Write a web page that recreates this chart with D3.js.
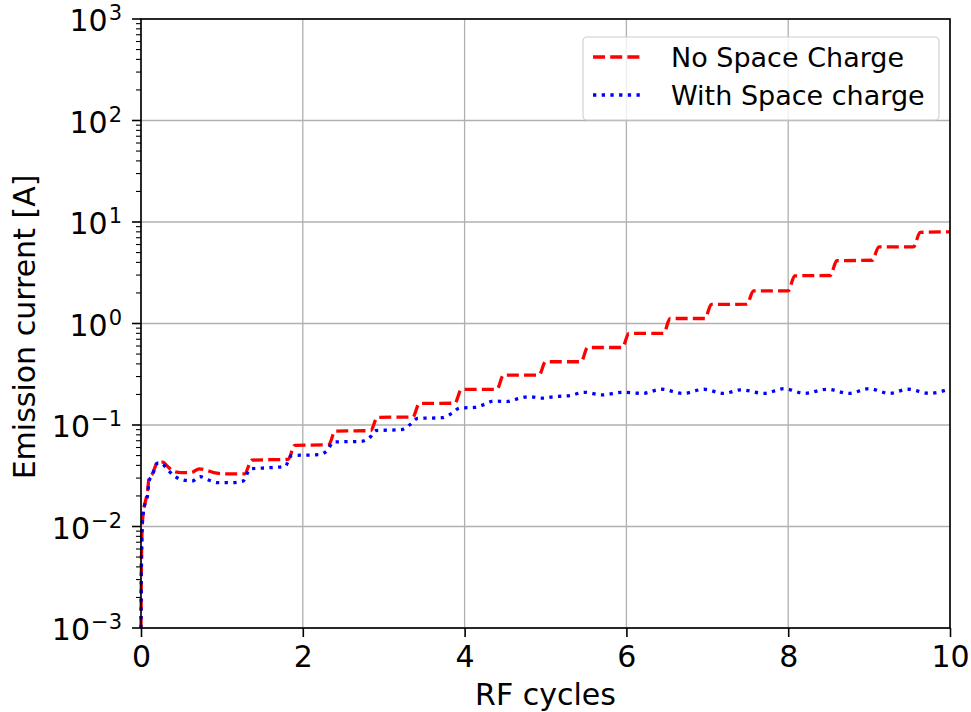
<!DOCTYPE html>
<html>
<head>
<meta charset="utf-8">
<style>
body { margin: 0; background: #fff; }
svg { font-family: "DejaVu Sans", sans-serif; }
.grid line { stroke: #b0b0b0; stroke-width: 1.3px; }
</style>
</head>
<body>
<svg width="971" height="712"></svg>
<script src="https://cdn.jsdelivr.net/npm/d3@7"></script>
<script>
// RF cycles vs emission current
var noScX = [0, 0.005, 0.015, 0.03, 0.05, 0.08, 0.1, 0.14, 0.2, 0.27, 0.33, 0.4, 0.5, 0.62, 0.72, 0.8, 0.9, 1.05, 1.28,
  1.37, 1.82, 1.9, 2.32, 2.4, 2.84, 2.92, 3.36, 3.44, 3.88, 3.96, 4.4, 4.48, 4.92, 5.0, 5.44, 5.52, 5.95, 6.03,
  6.46, 6.54, 6.97, 7.05, 7.49, 7.57, 8.0, 8.08, 8.52, 8.6, 9.04, 9.12, 9.55, 9.63, 10];
var noScY = [0.001, 0.004, 0.010, 0.014, 0.017, 0.022, 0.030, 0.033, 0.042, 0.043, 0.039, 0.035, 0.034, 0.034, 0.037, 0.036, 0.034, 0.033, 0.033,
  0.045, 0.046, 0.063, 0.064, 0.087, 0.088, 0.119, 0.12, 0.163, 0.164, 0.224, 0.225, 0.31, 0.31, 0.42, 0.42, 0.58, 0.58, 0.8,
  0.8, 1.12, 1.12, 1.54, 1.55, 2.1, 2.1, 2.95, 2.97, 4.15, 4.2, 5.7, 5.7, 7.9, 8.0];

var withScX = [0, 0.005, 0.015, 0.03, 0.05, 0.08, 0.1, 0.14, 0.2, 0.25, 0.32, 0.4, 0.5, 0.63, 0.73, 0.82, 0.95, 1.1, 1.26,
  1.35, 1.6, 1.78, 1.86, 2.2, 2.3, 2.38, 2.72, 2.84, 2.9, 3.22, 3.32, 3.42, 3.72, 3.84, 3.94, 4.12, 4.22, 4.36,
  4.52, 4.64, 4.8, 4.96, 5.1, 5.3, 5.48, 5.7, 5.95, 6.2, 6.43, 6.7, 6.96, 7.2, 7.42, 7.7, 7.95, 8.2, 8.48, 8.75,
  9.0, 9.25, 9.48, 9.75, 10];
var withScY = [0.001, 0.004, 0.010, 0.014, 0.017, 0.02, 0.028, 0.032, 0.042, 0.042, 0.037, 0.032, 0.029, 0.028, 0.031, 0.029, 0.027, 0.027, 0.028,
  0.037, 0.038, 0.039, 0.05, 0.051, 0.056, 0.068, 0.069, 0.077, 0.088, 0.09, 0.1, 0.116, 0.118, 0.13, 0.147, 0.149, 0.157, 0.172,
  0.17, 0.18, 0.19, 0.184, 0.19, 0.195, 0.21, 0.198, 0.21, 0.205, 0.225, 0.205, 0.225, 0.205, 0.222, 0.205, 0.228, 0.205, 0.225, 0.205,
  0.228, 0.205, 0.225, 0.205, 0.228];

var xTicks = [0, 2, 4, 6, 8, 10];
var yExps = [-3, -2, -1, 0, 1, 2, 3];
var seriesNames = ["No Space Charge", "With Space charge"];

var svg = d3.select("svg");
var plotL = 141, plotR = 950, plotT = 19, plotB = 628;

var x = d3.scaleLinear().domain([0, 10]).range([plotL, plotR]);
var y = d3.scaleLog().domain([1e-3, 1e3]).range([plotB, plotT]);

// grid
var grid = svg.append("g").attr("class", "grid");
grid.selectAll(".gx").data(xTicks).enter().append("line")
  .attr("x1", function(d) { return x(d); }).attr("x2", function(d) { return x(d); })
  .attr("y1", plotT).attr("y2", plotB);
grid.selectAll(".gy").data(yExps).enter().append("line")
  .attr("x1", plotL).attr("x2", plotR)
  .attr("y1", function(d) { return y(Math.pow(10, d)); })
  .attr("y2", function(d) { return y(Math.pow(10, d)); });

// lines
var line = d3.line()
  .x(function(d) { return x(d[0]); })
  .y(function(d) { return y(d[1]); })
  .curve(d3.curveMonotoneX);

var plot = svg.append("g");
plot.append("path")
  .datum(d3.zip(noScX, noScY))
  .attr("d", line)
  .attr("fill", "none").attr("stroke", "#ff0000")
  .attr("stroke-width", 3.3).attr("stroke-dasharray", "12,5.2");
plot.append("path")
  .datum(d3.zip(withScX, withScY))
  .attr("d", line)
  .attr("fill", "none").attr("stroke", "#0000ff")
  .attr("stroke-width", 3.3).attr("stroke-dasharray", "3.3,5.4");

// frame
svg.append("rect")
  .attr("x", plotL).attr("y", plotT)
  .attr("width", plotR - plotL).attr("height", plotB - plotT)
  .attr("fill", "none").attr("stroke", "#000").attr("stroke-width", 1.6);

// x axis
var xAxis = d3.axisBottom(x).tickValues(xTicks).tickSize(9).tickPadding(6)
  .tickFormat(d3.format("d"));
var gx = svg.append("g").attr("transform", "translate(0," + plotB + ")").call(xAxis);
gx.select(".domain").remove();
gx.selectAll(".tick line").attr("stroke", "#000").attr("stroke-width", 1.6);
gx.selectAll(".tick text").attr("font-size", 30).attr("fill", "#000")
  .attr("font-family", "DejaVu Sans").attr("dy", null).attr("y", 39);

// y axis, log, minor ticks
var minors = [];
yExps.slice(0, -1).forEach(function(e) {
  for (var k = 2; k <= 9; k++) minors.push(k * Math.pow(10, e));
});
svg.append("g").selectAll("line").data(minors).enter().append("line")
  .attr("x1", plotL - 5).attr("x2", plotL)
  .attr("y1", function(d) { return y(d); }).attr("y2", function(d) { return y(d); })
  .attr("stroke", "#000").attr("stroke-width", 1.1);

var gy = svg.append("g");
gy.selectAll("line").data(yExps).enter().append("line")
  .attr("x1", plotL - 9).attr("x2", plotL)
  .attr("y1", function(d) { return y(Math.pow(10, d)); })
  .attr("y2", function(d) { return y(Math.pow(10, d)); })
  .attr("stroke", "#000").attr("stroke-width", 1.6);

var lab = gy.selectAll("text").data(yExps).enter().append("text")
  .attr("x", plotL - 19)
  .attr("y", function(d) { return y(Math.pow(10, d)) + 12; })
  .attr("text-anchor", "end")
  .attr("font-size", 30)
  .attr("fill", "#000");
lab.append("tspan").text("10");
lab.append("tspan")
  .attr("dy", -11)
  .attr("dx", 1)
  .attr("font-size", 21)
  .text(function(d) { return d < 0 ? "\u2212" + (-d) : String(d); });

// axis labels
svg.append("text")
  .attr("x", (plotL + plotR) / 2).attr("y", 705)
  .attr("text-anchor", "middle").attr("font-size", 30)
  .text("RF cycles");
svg.append("text")
  .attr("transform", "translate(35,327) rotate(-90)")
  .attr("text-anchor", "middle").attr("font-size", 30)
  .text("Emission current [A]");

// legend
var lg = svg.append("g");
lg.append("rect")
  .attr("x", 583).attr("y", 37).attr("width", 356).attr("height", 83)
  .attr("rx", 4)
  .attr("fill", "#fff").attr("fill-opacity", 0.8)
  .attr("stroke", "#cccccc").attr("stroke-width", 1.1);
var styles = [
  { color: "#ff0000", dash: "12,5.2" },
  { color: "#0000ff", dash: "3.3,5.4" }
];
seriesNames.forEach(function(name, i) {
  var yy = 57 + i * 38;
  lg.append("line")
    .attr("x1", 593).attr("x2", 642).attr("y1", yy).attr("y2", yy)
    .attr("stroke", styles[i].color).attr("stroke-width", 3.3)
    .attr("stroke-dasharray", styles[i].dash);
  lg.append("text")
    .attr("x", 671).attr("y", yy + 10)
    .attr("font-size", 27)
    .text(name);
});
</script>
</body>
</html>
